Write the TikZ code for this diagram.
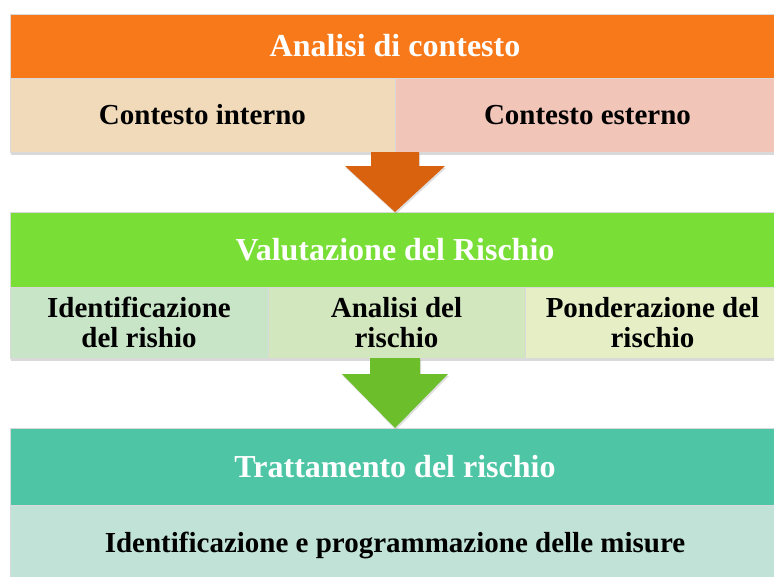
\documentclass[tikz,border=0pt]{standalone}
\usepackage{fontspec}
\setmainfont{Liberation Serif}
\usepackage{tikz}
\usetikzlibrary{positioning}
\usetikzlibrary{calc,shadows}

\definecolor{orangeband}{HTML}{F7791A}
\definecolor{contint}{HTML}{F0DAB9}
\definecolor{contest}{HTML}{F1C5B8}
\definecolor{arrorange}{HTML}{D8620E}
\definecolor{greenband}{HTML}{79DE36}
\definecolor{idrisk}{HTML}{C8E5C8}
\definecolor{anrisk}{HTML}{D2E7BE}
\definecolor{ponrisk}{HTML}{E6EEC6}
\definecolor{arrgreen}{HTML}{6DBE2B}
\definecolor{tealband}{HTML}{4EC6A5}
\definecolor{misure}{HTML}{C1E3D7}

\tikzset{
  box/.style={rectangle, anchor=north west, inner sep=0pt, outer sep=0pt,
    draw=white!85!black, line width=0.6pt, align=center,
    drop shadow={shadow xshift=1pt, shadow yshift=-3pt, opacity=0.3}},
  band/.style={box, minimum width=770pt, text=white,
    font=\fontsize{32}{34}\selectfont\bfseries},
  cell/.style={box, text=black, font=\fontsize{29}{30}\selectfont\bfseries},
  blockarrow/.style={draw=none,
    drop shadow={shadow xshift=1pt, shadow yshift=-2pt, opacity=0.25}},
}

\begin{document}
\begin{tikzpicture}[x=1pt,y=-1pt]
\useasboundingbox (0,0) rectangle (774,576);

% analisi di contesto
\node[band, fill=orangeband, minimum height=64pt] (ctx) at (10,14) {Analisi di contesto};
\node[cell, fill=contint, minimum width=385pt, minimum height=74pt] (ctxint) at (ctx.south west) {Contesto interno};
\node[cell, fill=contest, minimum width=385pt, minimum height=74pt] (ctxext) at (ctxint.north east) {Contesto esterno};

% valutazione
\node[band, fill=greenband, minimum height=75pt] (val) at (10,212) {Valutazione del Rischio};
\node[cell, fill=idrisk, minimum width=258pt, minimum height=71pt] (ident) at (val.south west) {Identificazione\\del rishio};
\node[cell, fill=anrisk, minimum width=257pt, minimum height=71pt] (anal) at (ident.north east) {Analisi del\\rischio};
\node[cell, fill=ponrisk, minimum width=255pt, minimum height=71pt] (pond) at (anal.north east) {Ponderazione del\\rischio};

% trattamento
\node[band, fill=tealband, minimum height=77pt] (tratt) at (10,428) {Trattamento del rischio};
\node[cell, fill=misure, minimum width=770pt, minimum height=80pt] (mis) at (tratt.south west) {Identificazione e programmazione delle misure};

% frecce
\fill[blockarrow, arrorange] (val.north)
  -- ($(val.north)+(-50,-46)$) -- ($(val.north)+(-24,-46)$) -- ($(val.north)+(-24,-60)$)
  -- ($(val.north)+(24,-60)$) -- ($(val.north)+(24,-46)$) -- ($(val.north)+(50,-46)$) -- cycle;
\fill[blockarrow, arrgreen] (tratt.north)
  -- ($(tratt.north)+(-53,-54)$) -- ($(tratt.north)+(-25,-54)$) -- ($(tratt.north)+(-25,-70)$)
  -- ($(tratt.north)+(25,-70)$) -- ($(tratt.north)+(25,-54)$) -- ($(tratt.north)+(53,-54)$) -- cycle;
\end{tikzpicture}
\end{document}
